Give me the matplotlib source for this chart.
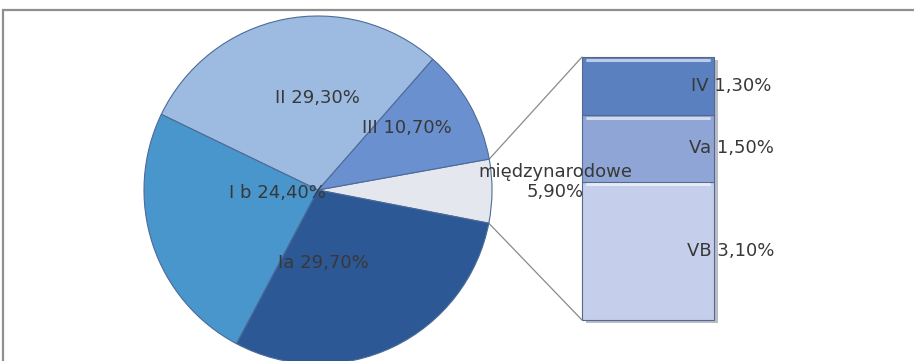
import matplotlib
matplotlib.use("Agg")
import numpy as np
import matplotlib.pyplot as plt
from matplotlib.patches import ConnectionPatch, Rectangle

# pie part (kolejnosc przeciwnie do wskazowek zegara, od "międzynarodowe")
pie_labels = ["międzynarodowe", "III", "II", "I b", "Ia"]
pie_values = [5.9, 10.7, 29.3, 24.4, 29.7]
pie_colors = ["#e4e7ee", "#6b90cf", "#9dbbe1", "#4896cc", "#2c5896"]

# bar part (rozbicie "międzynarodowe"), od dolu
bar_labels = ["VB", "Va", "IV"]
bar_values = [3.1, 1.5, 1.3]
bar_colors = ["#c5cfeb", "#8ea5d5", "#5b80c0"]

TXT = "#383838"
W, H = 914, 361


def fmt(v):
    return ("%.2f%%" % v).replace(".", ",")


fig = plt.figure(figsize=(W / 100, H / 100), dpi=100)
fig.patch.set_facecolor("white")

# stacked bar (axes pod glownym, zeby etykieta kola byla na wierzchu)
bx0, bx1, by0, by1 = 582, 714, 57, 320
axb = fig.add_axes([bx0 / W, 1 - by1 / H, (bx1 - bx0) / W, (by1 - by0) / H])
axb.set_zorder(1)
total = sum(bar_values)
# cien
axb.bar(0.03, total, bottom=-0.06, width=1, color="#b9bcc4", zorder=0, clip_on=False)
bottom = 0
for lab, val, col in zip(bar_labels, bar_values, bar_colors):
    axb.bar(0, val, bottom=bottom, width=1, color=col, edgecolor="#55688f",
            linewidth=0.8, zorder=1, clip_on=False)
    # jasny brzeg u gory segmentu
    axb.plot([-0.46, 0.46], [bottom + val - 0.06] * 2, color="white", alpha=0.6,
             linewidth=2.2, solid_capstyle="round", zorder=2)
    axb.text(0.63, bottom + val / 2, "%s %s" % (lab, fmt(val)), ha="center",
             va="center", fontsize=13, color=TXT, clip_on=False, zorder=3)
    bottom += val
axb.set_xlim(-0.5, 0.5)
axb.set_ylim(0, total)
axb.axis("off")

# main axes in pixel coordinates (y up)
ax = fig.add_axes([0, 0, 1, 1])
ax.set_zorder(2)
ax.patch.set_alpha(0)
cx, cy, r = 318, H - 190, 174
wedges, _ = ax.pie(pie_values, colors=pie_colors, startangle=-11,
                   center=(cx, cy), radius=r,
                   wedgeprops=dict(edgecolor="#4d6b99", linewidth=0.8))
ax.set_xlim(0, W)
ax.set_ylim(0, H)
ax.set_aspect("equal")
ax.axis("off")

# etykiety na kole (pozycje)
pie_label_pos = {
    "II": (317, 98),
    "III": (407, 128),
    "I b": (277, 193),
    "Ia": (323, 263),
}
for lab, val in zip(pie_labels, pie_values):
    if lab in pie_label_pos:
        px, py = pie_label_pos[lab]
        ax.text(px, H - py, "%s %s" % (lab, fmt(val)), ha="center", va="center",
                fontsize=13, color=TXT)
ax.text(555, H - 182, "%s\n%s" % (pie_labels[0], fmt(pie_values[0])),
        ha="center", va="center", fontsize=13, color=TXT, linespacing=1.15)

# linie laczace
a_top = np.deg2rad(-11 + pie_values[0] * 3.6)
a_bot = np.deg2rad(-11)
for ang, yb in [(a_top, total), (a_bot, 0)]:
    con = ConnectionPatch(xyA=(cx + r * np.cos(ang), cy + r * np.sin(ang)), coordsA=ax.transData,
                          xyB=(-0.5, yb), coordsB=axb.transData,
                          color="#8a8a8a", linewidth=0.9)
    fig.add_artist(con)

# ramka wykresu (obcieta z prawej i z dolu)
frame = Rectangle((3 / W, -0.1), 1.2, 1 - 10 / H + 0.1, transform=fig.transFigure,
                  fill=False, edgecolor="#8f8f8f", linewidth=1.6)
fig.add_artist(frame)

fig.savefig("out.png", dpi=100)
